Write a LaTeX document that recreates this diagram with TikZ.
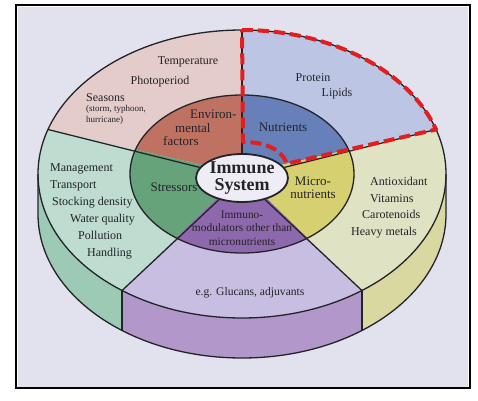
\documentclass[tikz,border=0pt]{standalone}
\usepackage{fontspec}
\setmainfont{Liberation Serif}
\usepackage{tikz}
\usetikzlibrary{calc, shapes.geometric}

\definecolor{bgpanel}{RGB}{226,226,238}
\definecolor{envout}{RGB}{228,204,202}
\definecolor{envin}{RGB}{192,114,98}
\definecolor{nutout}{RGB}{188,198,228}
\definecolor{nutin}{RGB}{104,128,186}
\definecolor{micout}{RGB}{224,226,196}
\definecolor{micin}{RGB}{214,208,112}
\definecolor{micside}{RGB}{216,216,160}
\definecolor{immout}{RGB}{200,190,226}
\definecolor{immin}{RGB}{142,104,172}
\definecolor{immside}{RGB}{178,152,202}
\definecolor{strout}{RGB}{190,220,208}
\definecolor{strin}{RGB}{102,162,122}
\definecolor{strside}{RGB}{156,202,180}
\definecolor{core}{RGB}{238,237,245}
\definecolor{ink}{RGB}{35,35,40}
\definecolor{hired}{RGB}{228,30,30}

\begin{document}
\begin{tikzpicture}[x=1pt, y=1pt,
            outerell/.style={x radius=204pt, y radius=144pt},
            innerell/.style={x radius=112pt, y radius=79pt},
            edge/.style={draw=ink, line width=1.3pt},
            txt/.style={font=\fontsize{12}{14}\selectfont, text=ink, inner sep=0pt},
            ringtxt/.style={font=\fontsize{13}{13.5}\selectfont, text=ink, inner sep=0pt},
            hilite/.style={draw=hired, line width=4pt, dash pattern=on 11pt off 5pt, line join=round}
        ]
        \useasboundingbox (0,0) rectangle (478,400);
        % frame
        \fill[bgpanel] (18,12) rectangle (468,393);
        \draw[line width=1.8pt] (16,12) rectangle (470,395);

        \begin{scope}[shift={(242,226)}]
        \coordinate (O) at (0,0);
        \coordinate (c18) at (18:204pt and 144pt);
        \coordinate (c90) at (90:204pt and 144pt);
        \coordinate (c162) at (162:204pt and 144pt);
        \coordinate (c234) at (234:204pt and 144pt);
        \coordinate (c306) at (306:204pt and 144pt);
        \coordinate (c180) at (180:204pt and 144pt);
        \coordinate (c360) at (0:204pt and 144pt);

        % cylinder side
        \fill[strside] (c180) arc[outerell, start angle=180, end angle=234] -- ++(0,-40) arc[outerell, start angle=234, end angle=180] -- cycle;
        \fill[immside] (c234) arc[outerell, start angle=234, end angle=306] -- ++(0,-40) arc[outerell, start angle=306, end angle=234] -- cycle;
        \fill[micside] (c306) arc[outerell, start angle=306, end angle=360] -- ++(0,-40) arc[outerell, start angle=360, end angle=306] -- cycle;

        % outer ring
        \fill[nutout] (O) -- (c18) arc[outerell, start angle=18, end angle=90] -- cycle;
        \fill[envout] (O) -- (c90) arc[outerell, start angle=90, end angle=162] -- cycle;
        \fill[strout] (O) -- (c162) arc[outerell, start angle=162, end angle=234] -- cycle;
        \fill[immout] (O) -- (c234) arc[outerell, start angle=234, end angle=306] -- cycle;
        \fill[micout] (O) -- (c306) arc[outerell, start angle=306, end angle=378] -- cycle;

        % inner ring
        \fill[nutin] (O) -- (18:112pt and 79pt) arc[innerell, start angle=18, end angle=90] -- cycle;
        \fill[envin] (O) -- (90:112pt and 79pt) arc[innerell, start angle=90, end angle=162] -- cycle;
        \fill[strin] (O) -- (162:112pt and 79pt) arc[innerell, start angle=162, end angle=234] -- cycle;
        \fill[immin] (O) -- (234:112pt and 79pt) arc[innerell, start angle=234, end angle=306] -- cycle;
        \fill[micin] (O) -- (306:112pt and 79pt) arc[innerell, start angle=306, end angle=378] -- cycle;

        % outlines
        \draw[edge] (O) ellipse[outerell];
        \draw[edge] (O) ellipse[innerell];
        \draw[edge] (c180) -- ++(0,-40) arc[outerell, start angle=180, end angle=360] -- (c360);
        \draw[edge] (c234) -- ++(0,-40);
        \draw[edge] (c306) -- ++(0,-40);
        \end{scope}

        \node[ellipse, draw=ink, line width=1.8pt, fill=core, minimum width=90pt, minimum height=48pt,
              inner sep=0pt, align=center, font=\fontsize{18}{17}\selectfont\bfseries, text=ink]
              (immune) at (242,222) {Immune\\System};

        \draw[edge] (immune) -- (c18);
        \draw[edge] (immune) -- (c90);
        \draw[edge] (immune) -- (c162);
        \draw[edge] (immune) -- (c234);
        \draw[edge] (immune) -- (c306);

        % highlighted sector
        \draw[hilite] (c90) arc[outerell, start angle=90, end angle=18] -- ($(O)!0.232!(c18)$)
              .. controls (280,253) and (262,258) .. (243,258) -- cycle;

        % labels
        \node[txt] (temp) at (188,338) {Temperature};
        \node[txt] (photo) at (160,318) {Photoperiod};
        \node[txt, anchor=west] (seasons) at (86,302) {Seasons};
        \node[txt, font=\fontsize{9}{11}\selectfont, anchor=north west, align=left] (storms) at (86,295) {(storm, typhoon,\\hurricane)};
        \node[ringtxt, anchor=north west, align=left] (envir) at (163,290) {\hspace*{27pt}Environ-\\\hspace*{12pt}mental\\factors};
        \node[ringtxt] (nutr) at (283,273) {Nutrients};
        \node[txt] (prot) at (313,322) {Protein};
        \node[txt] (lip) at (337,306) {Lipids};
        \node[ringtxt] (stress) at (174,213) {Stressors};
        \node[ringtxt, align=center] (micro) at (313,212) {Micro-\\nutrients};
        \node[txt, font=\fontsize{11.4}{13.5}\selectfont, align=center] (immod) at (242,172) {Immuno-\\modulators other than\\micronutrients};
        \node[txt, font=\fontsize{11.6}{14}\selectfont] (gluc) at (250,107) {e.g. Glucans, adjuvants};
        \node[txt, anchor=north west, align=left, font=\fontsize{12}{17}\selectfont] (manag) at (50,237)
              {Management\\Transport\\\hspace*{2pt}Stocking density\\\hspace*{20pt}Water quality\\\hspace*{28pt}Pollution\\\hspace*{37pt}Handling};
        \node[txt, anchor=north west, align=left, font=\fontsize{12}{16.5}\selectfont] (antiox) at (351,223)
              {\hspace*{19pt}Antioxidant\\\hspace*{19pt}Vitamins\\\hspace*{11pt}Carotenoids\\Heavy metals};
\end{tikzpicture}
\end{document}
